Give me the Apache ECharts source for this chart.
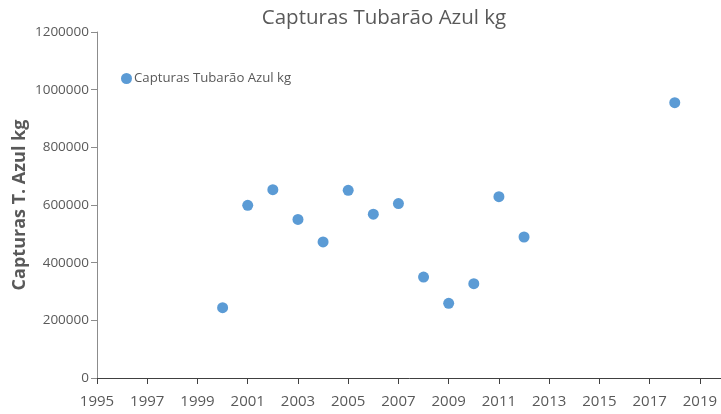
<!DOCTYPE html>
<html>
<head>
<meta charset="utf-8">
<script src="https://cdn.jsdelivr.net/npm/echarts@6/dist/echarts.min.js"></script>
<style>
  html, body { margin: 0; padding: 0; background: #fff; }
  #chart { width: 721px; height: 414px; }
</style>
</head>
<body>
<div id="chart"></div>
<script>
const years = [2000, 2001, 2002, 2003, 2004, 2005, 2006, 2007, 2008, 2009, 2010, 2011, 2012, 2018]
const catches = [244000, 599000, 653000, 550000, 472000, 651000, 568000, 605000, 350000, 259000, 327000, 629000, 489000, 955000]
const seriesName = 'Capturas Tubarão Azul kg'

const font = '"Open Sans", "Liberation Sans", sans-serif'
const textColor = '#595959'

const chart = echarts.init(document.getElementById('chart'))
chart.setOption({
  animation: false,
  title: {
    text: seriesName,
    left: 379,
    textAlign: 'center',
    top: 3,
    textStyle: { fontFamily: font, fontSize: 20.5, fontWeight: 'normal', color: textColor }
  },
  legend: {
    left: 116,
    top: 67,
    itemWidth: 11,
    itemHeight: 11,
    itemGap: 4,
    icon: 'circle',
    data: [seriesName],
    textStyle: { fontFamily: font, fontSize: 13.2, color: textColor, padding: [0, 0, 0, -3] }
  },
  grid: { left: 97, right: -4, top: 32, bottom: 36, outerBoundsMode: 'none' },
  xAxis: {
    type: 'value',
    min: 1995,
    max: 2020,
    interval: 2,
    splitLine: { show: false },
    axisLine: { lineStyle: { color: '#404040', width: 1 } },
    axisTick: { show: true, length: 6, lineStyle: { color: '#404040' } },
    axisLabel: {
      fontFamily: font, fontSize: 15, color: textColor, margin: 16,
      formatter: v => (v <= 2019 ? String(v) : '')
    }
  },
  yAxis: {
    type: 'value',
    min: 0,
    max: 1200000,
    interval: 200000,
    name: 'Capturas T. Azul kg',
    nameLocation: 'middle',
    nameGap: 68,
    nameMoveOverlap: false,
    nameTextStyle: { fontFamily: font, fontSize: 18, fontWeight: 'bold', color: textColor },
    splitLine: { show: false },
    axisLine: { show: true, lineStyle: { color: '#8c8c8c', width: 1 } },
    axisTick: { show: true, length: 6, lineStyle: { color: '#8c8c8c' } },
    axisLabel: { fontFamily: font, fontSize: 13.5, color: textColor, margin: 8, formatter: v => String(v) }
  },
  series: [{
    name: seriesName,
    type: 'scatter',
    symbol: 'circle',
    symbolSize: 11,
    itemStyle: { color: '#5B9BD5', opacity: 1 },
    data: years.map((y, i) => [y, catches[i]])
  }]
})
</script>
</body>
</html>
